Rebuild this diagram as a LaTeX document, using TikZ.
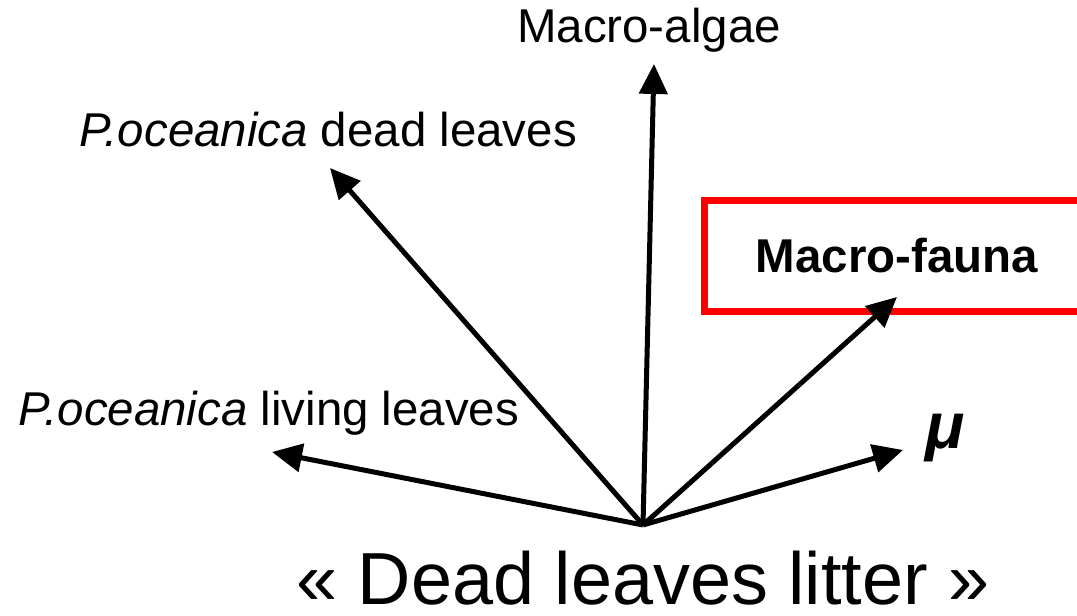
\documentclass[tikz,border=0pt]{standalone}
\usepackage{fontspec}
\setmainfont{Liberation Sans}
\usetikzlibrary{arrows.meta}

\begin{document}
\begin{tikzpicture}
  \useasboundingbox (0, 0) rectangle (10.77, 6.16);
  \tikzstyle{axis}=[draw, line width=0.05cm, -{Triangle[length=0.3cm, width=0.28cm]}]
  \tikzstyle{label}=[inner sep=0pt, font=\fontsize{13.5}{16}\selectfont]

  \coordinate (o) at (6.43, 0.91);  % Ursprung der Pfeile.
  \coordinate (algae) at (6.54, 5.52);
  \coordinate (dead) at (3.30, 4.48);
  \coordinate (living) at (2.72, 1.64);
  \coordinate (fauna) at (8.97, 3.19);
  \coordinate (mu) at (9.03, 1.66);

  \node[label] (algaeL) at (6.49, 5.86) {Macro-algae};
  \node[label] (deadL) at (3.28, 4.86) {\textit{P.oceanica} dead leaves};
  \node[label] (livingL) at (2.69, 2.03) {\textit{P.oceanica} living leaves};
  \node[label, draw=red, line width=0.065cm, minimum width=3.85cm, minimum height=1.11cm,
        font=\fontsize{13.5}{16}\selectfont\bfseries] (faunaL) at (8.97, 3.6) {Macro-fauna};
  \node[label, font=\fontsize{18.5}{22}\selectfont\bfseries\itshape] (muL) at (9.45, 1.78) {μ};
  \node[label, font=\fontsize{21}{25}\selectfont] (litter) at (6.43, 0.38) {« Dead leaves litter »};

  \path[axis] (o) -- (algae);
  \path[axis] (o) -- (dead);
  \path[axis] (o) -- (living);
  \path[axis] (o) -- (fauna);
  \path[axis] (o) -- (mu);
\end{tikzpicture}
\end{document}
